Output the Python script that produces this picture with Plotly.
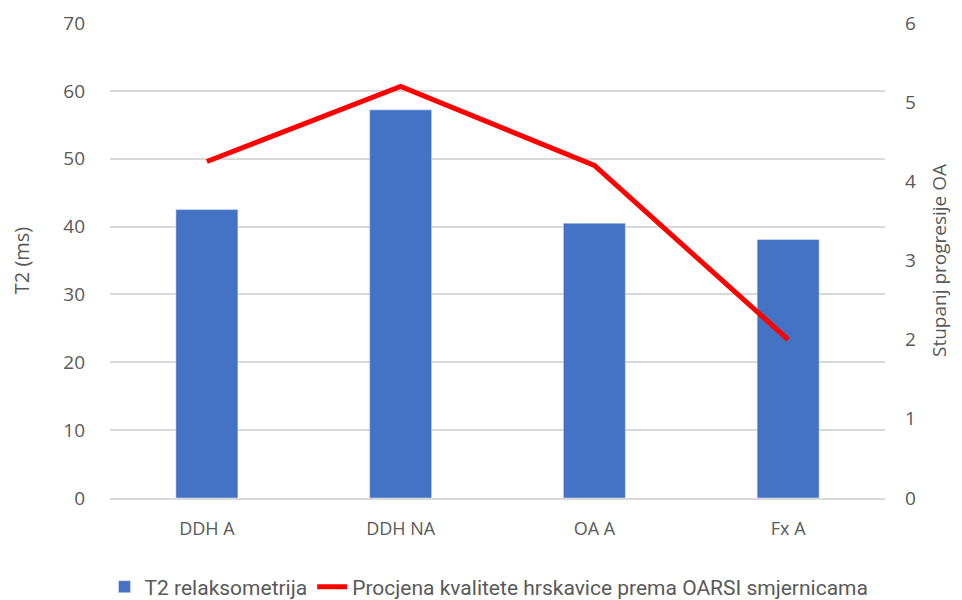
import plotly.graph_objects as go

# Datos
kategorije = ['DDH A', 'DDH NA', 'OA A', 'Fx A']
t2_ms = [42.5, 57.2, 40.5, 38.1]
oarsi = [4.25, 5.2, 4.2, 2.0]

font_fam = 'Open Sans, Noto Sans, sans-serif'
siva = '#595959'

fig = go.Figure()

fig.add_trace(go.Bar(
    x=kategorije,
    y=t2_ms,
    name='T2 relaksometrija',
    marker=dict(color='#4472C4'),
    yaxis='y'
))

fig.add_trace(go.Scatter(
    x=kategorije,
    y=oarsi,
    name='Procjena kvalitete hrskavice prema OARSI smjernicama',
    mode='lines',
    line=dict(color='#FF0000', width=5),
    yaxis='y2'
))

# stranica ima 8px margine (body), pa se to oduzima
fig.update_layout(
    width=962,
    height=600,
    margin=dict(l=102, r=85, t=15, b=110),
    plot_bgcolor='white',
    paper_bgcolor='white',
    bargap=0.68,
    font=dict(family=font_fam, color=siva, size=17),
    xaxis=dict(
        showgrid=False,
        showline=True,
        linecolor='#d9d9d9',
        linewidth=1.5,
        ticks='',
        automargin=False,
        ticklabelstandoff=14,
        tickfont=dict(size=18, color=siva),
    ),
    yaxis=dict(
        range=[0, 70],
        dtick=10,
        showgrid=True,
        gridcolor='#d9d9d9',
        gridwidth=1.5,
        zeroline=False,
        ticks='',
        automargin=False,
        ticklabelstandoff=24,
        tickfont=dict(size=19, color=siva),
        title=dict(text='T2 (ms)', font=dict(size=20, color=siva), standoff=28),
    ),
    yaxis2=dict(
        range=[0, 6],
        dtick=1,
        overlaying='y',
        side='right',
        showgrid=False,
        zeroline=False,
        ticks='',
        automargin=False,
        ticklabelstandoff=19,
        tickfont=dict(size=19, color=siva),
        title=dict(text='Stupanj progresije OA', font=dict(size=19, color=siva), standoff=17),
    ),
    legend=dict(
        orientation='h',
        x=0.5,
        xanchor='center',
        xref='container',
        y=0.035,
        yanchor='middle',
        yref='container',
        itemwidth=30,
        font=dict(family='Roboto, sans-serif', size=21, color=siva),
    ),
)

fig.write_html('out.html')
